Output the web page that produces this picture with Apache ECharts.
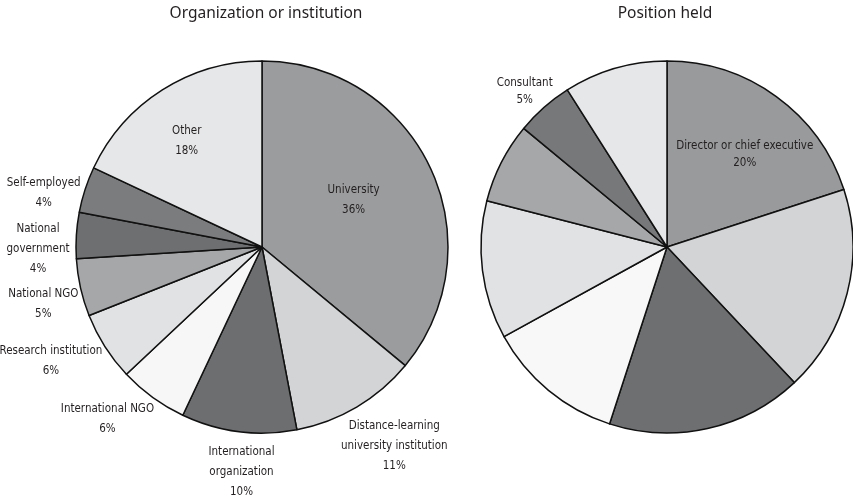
<!DOCTYPE html>
<html>
<head>
<meta charset="utf-8">
<script src="https://cdn.jsdelivr.net/npm/echarts@6/dist/echarts.min.js"></script>
<style>
  html, body { margin: 0; padding: 0; background: #fff; }
  #chart { width: 853px; height: 504px; }
</style>
</head>
<body>
<div id="chart"></div>
<script>
// left pie: organisation or institution (% of respondents)
const orgNames = ['University', 'Distance-learning\nuniversity institution', 'International\norganization',
  'International NGO', 'Research institution', 'National NGO', 'National\ngovernment', 'Self-employed', 'Other']
const orgValues = [36, 11, 10, 6, 6, 5, 4, 4, 18]
const orgColors = ['#9b9c9e', '#d3d4d6', '#6d6e70', '#f7f7f7', '#e1e2e3', '#a6a7a9', '#6e6f71', '#7b7c7e', '#e6e7e8']

// right pie: position held (only two slices are labelled in the source)
const posNames = ['Director or chief executive', 'Position B', 'Position C', 'Position D',
  'Position E', 'Position F', 'Consultant', 'Position H']
const posValues = [20, 18, 17, 12, 12, 7, 5, 9]
const posColors = ['#999a9c', '#d3d4d6', '#6e6f71', '#f8f8f8', '#e1e2e3', '#a6a7a9', '#77787a', '#e6e7e9']
const posShown = ['Director or chief executive', 'Consultant']

const labelFont = "'DejaVu Sans Condensed', 'Liberation Sans Narrow', sans-serif"
const titleFont = "'Noto Sans', 'Open Sans', sans-serif"
const textColor = '#231f20'
const R = 186
const leftCenter = [262, 247]
const rightCenter = [667, 247]

// label placement: [angle shift from slice middle (deg), distance from centre (px)]
const orgPlace = [[-2, 103], [-3, 239], [-2, 226], [6, 231], [4, 240], [-2, 226], [-4, 224], [-4, 225], [-3, 130]]
const posPlace = {0: [4, 121], 6: [-1, 211]}

function midAngles(values) {
  const total = values.reduce((a, b) => a + b, 0)
  let acc = 0
  return values.map(v => {
    const m = (acc + v / 2) / total * 360
    acc += v
    return m
  })
}

function placer(values, center, place) {
  const mids = midAngles(values)
  return function (p) {
    const pl = place[p.dataIndex]
    if (!pl) return {}
    const a = (mids[p.dataIndex] + pl[0]) * Math.PI / 180
    return {
      x: center[0] + pl[1] * Math.sin(a),
      y: center[1] - pl[1] * Math.cos(a),
      align: 'center',
      verticalAlign: 'middle'
    }
  }
}

const myChart = echarts.init(document.getElementById('chart'))

const option = {
  animation: false,
  title: [
    {text: 'Organization or institution', left: 261, top: 1, textAlign: 'center',
      textStyle: {fontFamily: titleFont, fontSize: 15.5, fontWeight: 'normal', color: textColor}},
    {text: 'Position held', left: 660, top: 1, textAlign: 'center',
      textStyle: {fontFamily: titleFont, fontSize: 15.5, fontWeight: 'normal', color: textColor}}
  ],
  series: [
    {
      type: 'pie',
      center: leftCenter,
      radius: R,
      startAngle: 90,
      clockwise: true,
      avoidLabelOverlap: false,
      itemStyle: {borderColor: '#111', borderWidth: 1.5},
      label: {
        show: true,
        position: 'outside',
        formatter: p => p.name + '\n' + p.value + '%',
        fontFamily: labelFont,
        fontSize: 11.5,
        lineHeight: 20,
        color: textColor
      },
      labelLine: {show: false},
      labelLayout: placer(orgValues, leftCenter, orgPlace),
      emphasis: {disabled: true},
      data: orgNames.map((n, i) => ({name: n, value: orgValues[i], itemStyle: {color: orgColors[i]}}))
    },
    {
      type: 'pie',
      center: rightCenter,
      radius: R,
      startAngle: 90,
      clockwise: true,
      avoidLabelOverlap: false,
      itemStyle: {borderColor: '#111', borderWidth: 1.5},
      label: {
        show: true,
        position: 'outside',
        formatter: p => p.name + '\n' + p.value + '%',
        fontFamily: labelFont,
        fontSize: 11.5,
        lineHeight: 17,
        color: textColor
      },
      labelLine: {show: false},
      labelLayout: placer(posValues, rightCenter, posPlace),
      emphasis: {disabled: true},
      data: posNames.map((n, i) => ({
        name: n, value: posValues[i], itemStyle: {color: posColors[i]},
        label: {show: posShown.includes(n)}
      }))
    }
  ]
}

myChart.setOption(option)
</script>
</body>
</html>
